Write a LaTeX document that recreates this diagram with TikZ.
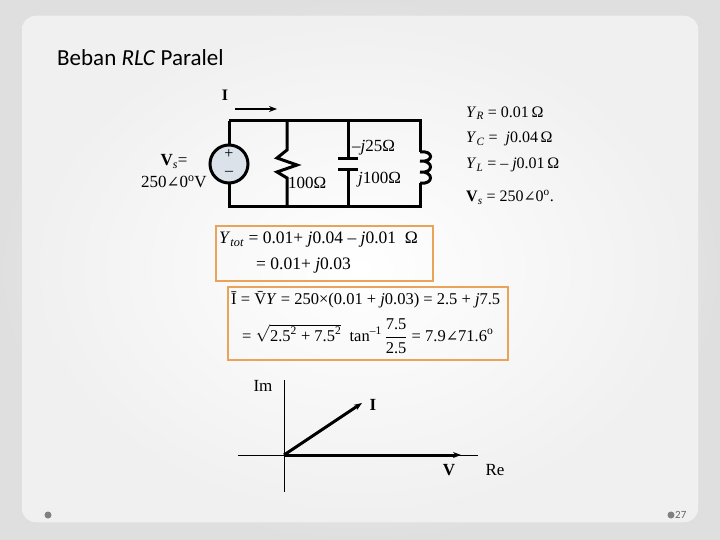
\documentclass[tikz,border=0pt]{standalone}
\usepackage{fontspec}
\setmainfont{Liberation Serif}
\newfontfamily\sansf{Carlito}
\newfontfamily\dvs{DejaVu Serif}
\usetikzlibrary{arrows.meta}
\definecolor{frameor}{HTML}{E9A45A}
\definecolor{srcfill}{HTML}{DCE2EA}
\newcommand{\vi}[1]{\textit{#1}}
\newcommand{\ohm}{Ω}
\newcommand{\angl}{{\dvs\scalebox{0.9}{∠}}}
\begin{document}
\begin{tikzpicture}[x=1pt,y=-1pt,
  wire/.style={line width=3pt},
  obox/.style={draw=frameor,line width=2.2pt},
  lbl/.style={font=\fontsize{17}{19}\selectfont,inner sep=0pt},
  eq/.style={font=\fontsize{16}{18}\selectfont,inner sep=0pt,anchor=west},
  beq/.style={font=\fontsize{17.5}{19}\selectfont,inner sep=0pt,anchor=west}]
\useasboundingbox (0,0) rectangle (720,540);
\shade[inner color=white,outer color=gray!25] (0,0) rectangle (720,540);
\fill[white,rounded corners=14pt] (22,16) rectangle (698,522);
\shade[inner color=white,outer color=gray!12,rounded corners=14pt] (22,16) rectangle (698,522);
\node[anchor=west,font=\sansf\fontsize{23}{25}\selectfont,inner sep=0pt] (title) at (57,58) {Beban \textit{RLC} Paralel};
% circuit
\coordinate (tl) at (229,121); \coordinate (bl) at (229,207);
\coordinate (tr) at (420,121); \coordinate (br) at (420,207);
\draw[wire] (tl) -- (tr) -- (420,152);
\draw[wire] (420,183) -- (br) -- (bl) -- (tl);
\node[circle,draw,line width=3pt,fill=srcfill,minimum size=38pt,inner sep=0pt] (src) at (229,164) {};
\node[lbl,font=\fontsize{16}{18}\selectfont] (plus) at (229,154) {+};
\node[lbl,font=\fontsize{16}{18}\selectfont] (minus) at (229,173) {–};
\draw[wire] (287,121) -- (287,150) -- (277,158) -- (297,165) -- (277,172) -- (287,178) -- (287,207);
\draw[wire] (348,121) -- (348,159) (338,159) -- (358,159) (338,170) -- (358,170) (348,170) -- (348,207);
\draw[wire] (420,152) .. controls (434,150) and (434,163) .. (420,161)
  .. controls (434,160) and (434,174) .. (420,172)
  .. controls (434,171) and (434,185) .. (420,183);
\draw[-{Stealth[length=8pt]},line width=2.5pt] (235,109) coordinate (ia) -- (277,109) coordinate (ib);
\node[lbl,font=\bfseries\fontsize{16}{18}\selectfont] (Ilab) at (225,95) {I};
\node[lbl,align=center] (vs) at (174,171) {\textbf{V}\textsubscript{\textit{s}}=\\[3pt]250\angl0\textsuperscript{o}V};
\node[lbl,anchor=west] (r) at (288,183) {100\ohm};
\node[lbl,anchor=west] (c) at (352,148) {–\vi{j}25\ohm};
\node[lbl,anchor=west] (l) at (358,180) {\vi{j}100\ohm};
% right equations
\node[eq] (yr) at (466,113) {\vi{Y}\textsubscript{\vi{R}} = 0.01\,\ohm};
\node[eq] (yc) at (466,139) {\vi{Y}\textsubscript{\vi{C}} = \ \vi{j}0.04\,\ohm};
\node[eq] (yl) at (466,165) {\vi{Y}\textsubscript{\vi{L}} = – \vi{j}0.01\,\ohm};
\node[eq] (vsv) at (466,197) {\textbf{V}\textsubscript{\vi{s}} = 250\angl0\textsuperscript{o}.};
% boxes
\draw[obox] (216,226) rectangle (433,281);
\node[beq] (e1) at (219,240) {\vi{Y}\textsubscript{\vi{tot}} = 0.01+ \vi{j}0.04 – \vi{j}0.01\ \ \ohm};
\node[beq] (e2) at (256,266) {= 0.01+ \vi{j}0.03};
\draw[obox] (228,287) rectangle (508,360);
\node[beq,font=\fontsize{16.5}{18}\selectfont] (e3) at (231,300) {\=I = \=V\vi{Y} = 250×(0.01 + \vi{j}0.03) = 2.5 + \vi{j}7.5};
\node[beq,font=\fontsize{16.5}{18}\selectfont] (e4) at (242,336) {= $\sqrt{\mbox{2.5\textsuperscript{2} + 7.5\textsuperscript{2}}}$\ \ tan\textsuperscript{–1}\,$\displaystyle{\mbox{7.5}\over\mbox{2.5}}$ = 7.9\angl71.6\textsuperscript{o}};
% phasor
\coordinate (o) at (284,455);
\draw[line width=0.8pt] (284,380) -- (284,492);
\draw[line width=0.8pt] (238,455) -- (478,455);
\draw[-{Stealth[length=8pt]},line width=3pt] (o) -- (362,403) coordinate (itip);
\draw[-{Stealth[length=8pt]},line width=3pt] (o) -- (461,455) coordinate (vtip);
\node[lbl] (im) at (263,386) {Im};
\node[lbl,font=\bfseries\fontsize{17}{19}\selectfont] (ip) at (373,405) {I};
\node[lbl,font=\bfseries\fontsize{17}{19}\selectfont] (vp) at (449,470) {V};
\node[lbl] (re) at (495,470) {Re};
% footer
\fill[gray] (48,515) circle (3.5pt);
\fill[gray] (671,515) circle (3.5pt);
\node[anchor=west,font=\sansf\fontsize{11}{12}\selectfont,text=gray!80!black,inner sep=0pt] (pg) at (675,515) {27};
\end{tikzpicture}
\end{document}
